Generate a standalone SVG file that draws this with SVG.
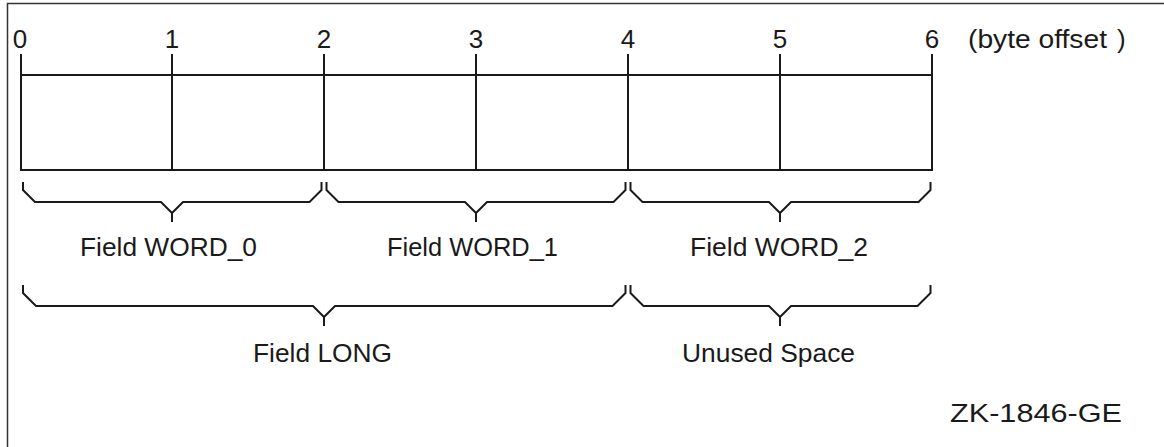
<svg xmlns="http://www.w3.org/2000/svg" width="1164" height="447" viewBox="0 0 1164 447">
<style>
.ln{stroke:#1a1a1a;stroke-width:2;fill:none;stroke-linejoin:miter;stroke-linecap:square}
.br{stroke:#1a1a1a;stroke-width:2;fill:none;stroke-linejoin:miter}
.t{font-family:"Liberation Sans",Arial,sans-serif;font-size:26px;fill:#1a1a1a}
.d{font-family:"Liberation Sans",Arial,sans-serif;font-size:26px;fill:#1a1a1a;text-anchor:middle}
</style>
<rect x="0" y="0" width="1164" height="447" fill="#ffffff"/>
<g id="frame">
<path d="M7.5,447 V3.5 H1164" stroke="#333" stroke-width="1.5" fill="none"/>
</g>
<g id="offsets">
<text class="d" x="20" y="48">0</text>
<text class="d" x="172" y="48">1</text>
<text class="d" x="324" y="48">2</text>
<text class="d" x="476" y="48">3</text>
<text class="d" x="628" y="48">4</text>
<text class="d" x="780" y="48">5</text>
<text class="d" x="932" y="48">6</text>
<text class="t" x="968" y="48" textLength="139" lengthAdjust="spacingAndGlyphs">(byte offset</text>
<text class="t" x="1117" y="48">)</text>
</g>
<g id="record">
<path class="ln" d="M21,55 V170 H932 V55 M21,75 H932 M172,55 V170 M324,55 V170 M476,55 V170 M628,55 V170 M780,55 V170"/>
</g>
<g id="connectors">
<path class="br" d="M23,182 V190 L35,202 H161 L172,213 L183,202 H309.5 L321.5,190 V182 M172,213 V222"/>
<path class="br" d="M326.5,182 V190 L338.5,202 H465 L476,213 L487,202 H613.5 L625.5,190 V182 M476,213 V222"/>
<path class="br" d="M630.5,182 V190 L642.5,202 H769 L780,213 L791,202 H918.5 L930.5,190 V182 M780,213 V222"/>
<path class="br" d="M23,285 V293 L36,306 H313 L324,317 L335,306 H612.5 L625.5,293 V285 M324,317 V326"/>
<path class="br" d="M630.5,285 V293 L643.5,306 H769 L780,317 L791,306 H917.5 L930.5,293 V285 M780,317 V326"/>
</g>
<g id="word0"><text class="t" x="80" y="256" textLength="177" lengthAdjust="spacingAndGlyphs">Field WORD_0</text></g>
<g id="word1"><text class="t" x="387" y="256" textLength="171" lengthAdjust="spacingAndGlyphs">Field WORD_1</text></g>
<g id="word2"><text class="t" x="690" y="256" textLength="178" lengthAdjust="spacingAndGlyphs">Field WORD_2</text></g>
<g id="long"><text class="t" x="253" y="362" textLength="139" lengthAdjust="spacingAndGlyphs">Field LONG</text></g>
<g id="unused"><text class="t" x="682" y="362" textLength="173" lengthAdjust="spacingAndGlyphs">Unused Space</text></g>
<g id="figid"><text class="t" x="950" y="422" textLength="172" lengthAdjust="spacingAndGlyphs">ZK-1846-GE</text></g>
</svg>
